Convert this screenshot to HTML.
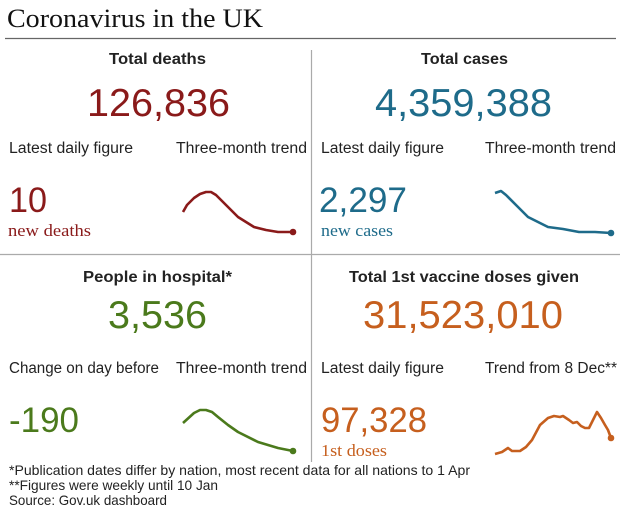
<!DOCTYPE html>
<html><head><meta charset="utf-8"><style>
html,body{margin:0;padding:0;background:#fff;width:620px;height:514px;overflow:hidden}
text{font-family:"Liberation Sans",sans-serif;fill:#222}
.h{font-weight:bold;font-size:16px}
.big{font-size:39px}
.lab{font-size:15.5px}
.mid{font-size:35px}
.ser{font-family:"Liberation Serif",serif;font-size:17px}
.fn{font-size:14px}
</style></head><body>
<svg width="620" height="514" xmlns="http://www.w3.org/2000/svg">
<text x="7" y="27" textLength="256" lengthAdjust="spacingAndGlyphs" style="font-family:'Liberation Serif',serif;font-size:26px;fill:#111">Coronavirus in the UK</text>
<line x1="5" y1="38.5" x2="616" y2="38.5" stroke="#666" stroke-width="1.2"/>
<line x1="311.5" y1="50" x2="311.5" y2="462" stroke="#aaa" stroke-width="1.2"/>
<line x1="0" y1="254.5" x2="620" y2="254.5" stroke="#aaa" stroke-width="1.2"/>

<text class="h" x="109" y="64" textLength="97" lengthAdjust="spacingAndGlyphs">Total deaths</text>
<text class="big" x="87" y="116" textLength="143" lengthAdjust="spacingAndGlyphs" style="fill:#8a1a1a">126,836</text>
<text class="lab" x="9" y="153" textLength="124" lengthAdjust="spacingAndGlyphs">Latest daily figure</text>
<text class="lab" x="176" y="153" textLength="131" lengthAdjust="spacingAndGlyphs">Three-month trend</text>
<text class="mid" x="9" y="212" textLength="38" lengthAdjust="spacingAndGlyphs" style="fill:#8a1a1a">10</text>
<text class="ser" x="8" y="236" textLength="83" lengthAdjust="spacingAndGlyphs" style="fill:#8a1a1a">new deaths</text>
<polyline fill="none" stroke="#8a1a1a" stroke-width="2.6" stroke-linejoin="round" points="183,212 187,205 194,198 200,194 206,192 211,192 216,195 227,206 238,217 254,227 266,230 278,232 293,232"/>
<circle cx="293" cy="232" r="3.3" fill="#8a1a1a"/>

<text class="h" x="421" y="64" textLength="87" lengthAdjust="spacingAndGlyphs">Total cases</text>
<text class="big" x="375" y="116" textLength="177" lengthAdjust="spacingAndGlyphs" style="fill:#1e6b8a">4,359,388</text>
<text class="lab" x="321" y="153" textLength="123" lengthAdjust="spacingAndGlyphs">Latest daily figure</text>
<text class="lab" x="485" y="153" textLength="131" lengthAdjust="spacingAndGlyphs">Three-month trend</text>
<text class="mid" x="319" y="212" textLength="88" lengthAdjust="spacingAndGlyphs" style="fill:#1e6b8a">2,297</text>
<text class="ser" x="321" y="236" textLength="72" lengthAdjust="spacingAndGlyphs" style="fill:#1e6b8a">new cases</text>
<polyline fill="none" stroke="#1e6b8a" stroke-width="2.6" stroke-linejoin="round" points="495,193 501,191 506,195 517,206 528,217 548,227 563,229 579,232 595,232 611,233"/>
<circle cx="611" cy="233" r="3.3" fill="#1e6b8a"/>

<text class="h" x="83" y="282" textLength="149" lengthAdjust="spacingAndGlyphs">People in hospital*</text>
<text class="big" x="108" y="328" textLength="99" lengthAdjust="spacingAndGlyphs" style="fill:#4b7a1c">3,536</text>
<text class="lab" x="9" y="373" textLength="150" lengthAdjust="spacingAndGlyphs">Change on day before</text>
<text class="lab" x="176" y="373" textLength="131" lengthAdjust="spacingAndGlyphs">Three-month trend</text>
<text class="mid" x="9" y="432" textLength="70" lengthAdjust="spacingAndGlyphs" style="fill:#4b7a1c">-190</text>
<polyline fill="none" stroke="#4b7a1c" stroke-width="2.6" stroke-linejoin="round" points="183,423 194,413 200,410 206,410 212,412 218,417 228,425 238,432 258,442 278,448 293,451"/>
<circle cx="293" cy="451" r="3.3" fill="#4b7a1c"/>

<text class="h" x="349" y="282" textLength="230" lengthAdjust="spacingAndGlyphs">Total 1st vaccine doses given</text>
<text class="big" x="363" y="328" textLength="200" lengthAdjust="spacingAndGlyphs" style="fill:#c65f1e">31,523,010</text>
<text class="lab" x="321" y="373" textLength="123" lengthAdjust="spacingAndGlyphs">Latest daily figure</text>
<text class="lab" x="485" y="373" textLength="132" lengthAdjust="spacingAndGlyphs">Trend from 8 Dec**</text>
<text class="mid" x="321" y="432" textLength="106" lengthAdjust="spacingAndGlyphs" style="fill:#c65f1e">97,328</text>
<text class="ser" x="321" y="456" textLength="66" lengthAdjust="spacingAndGlyphs" style="fill:#c65f1e">1st doses</text>
<polyline fill="none" stroke="#c65f1e" stroke-width="2.6" stroke-linejoin="round" points="495,454 502,452 508,448 512,451 520,451 526,447 532,440 540,425 548,418 554,416 560,417 563,416 569,420 573,423 577,422 581,426 585,428 589,428 593,420 597,412 601,418 605,425 608,430 611,438"/>
<circle cx="611" cy="438" r="3.3" fill="#c65f1e"/>

<text class="fn" x="9" y="475" textLength="461" lengthAdjust="spacingAndGlyphs">*Publication dates differ by nation, most recent data for all nations to 1 Apr</text>
<text class="fn" x="9" y="490" textLength="209" lengthAdjust="spacingAndGlyphs">**Figures were weekly until 10 Jan</text>
<text class="fn" x="9" y="505" textLength="158" lengthAdjust="spacingAndGlyphs">Source: Gov.uk dashboard</text>
</svg>
</body></html>
